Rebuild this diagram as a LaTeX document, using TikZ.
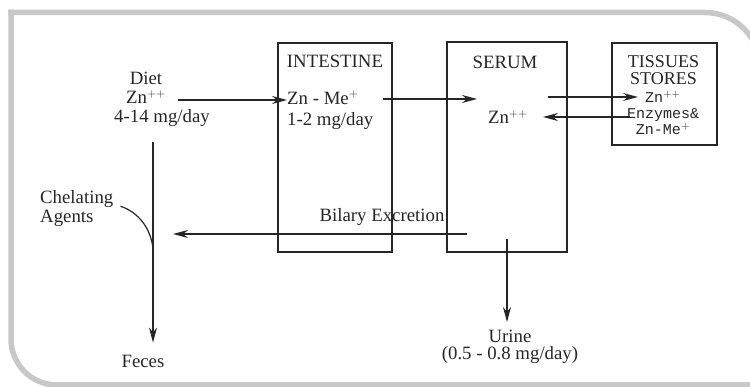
\documentclass[tikz,border=0pt]{standalone}
\usepackage{fontspec}
\setmainfont{Liberation Serif}
\setmonofont{Liberation Mono}
\usetikzlibrary{
  arrows.meta,
  positioning,
  calc,
}
\definecolor{framecol}{RGB}{200,200,200}
\definecolor{inkcol}{RGB}{38,38,38}
\tikzset{
  organbox/.style={
    rectangle, draw=inkcol, line width=1.3pt, inner sep=0pt
  },
  seriftext/.style={
    font=\fontsize{18.8}{19}\selectfont, text=inkcol,
    inner sep=0pt, align=center
  },
  monotext/.style={
    font=\ttfamily\fontsize{15}{16}\selectfont, text=inkcol,
    inner sep=0pt, align=center
  },
  flow/.style={-{Stealth[length=15pt,width=8pt]}, line width=1.2pt, inkcol},
  plainline/.style={line width=1.2pt, inkcol},
}

\begin{document}
\begin{tikzpicture}[x=1pt,y=-1pt]
  \useasboundingbox (0,0) rectangle (750,387);

  % ── Frame ──
  \begin{scope}
    \clip (0,0) rectangle (750,387);
    \draw[framecol, line width=5.5pt, rounded corners=46pt] (11,9.75) -- (11,385) -- (790,385);
    \draw[framecol, line width=5.5pt, rounded corners=55pt] (8.25,12.5) -- (760,12.5) -- (760,420);
  \end{scope}

  % ── Compartments ──
  \node[organbox, minimum width=114pt, minimum height=209pt] (intestine) at (335,147.5) {};
  \node[organbox, minimum width=120pt, minimum height=210pt] (serum)     at (507,147)   {};
  \node[organbox, minimum width=105pt, minimum height=102pt] (tissues)   at (664.5,94)  {};

  % ── Compartment titles ──
  \node[seriftext, below=13pt of intestine.north] (intitle) {INTESTINE};
  \node[seriftext, below=14.5pt of serum.north, xshift=-2pt] (sertitle) {SERUM};
  \node[seriftext, below=13pt of tissues.north, xshift=-1pt,
        font=\fontsize{18}{17}\selectfont] (tistitle) {TISSUES\\STORES};

  % ── Contents ──
  \node[seriftext] (diet) at (162,99.5) {Diet\kern32pt\\Zn$^{++}$\kern32pt\\4-14 mg/day};
  \node[seriftext, align=left, anchor=west, font=\fontsize{18.8}{21}\selectfont]
    (zninner) at (287,110) {Zn - Me$^{+}$\\1-2 mg/day};
  \node[seriftext] (serumzn) at (508,117) {Zn$^{++}$};
  \node[monotext, anchor=north] (tistext) at (663,91) {Zn$^{++}$\\Enzymes\&\\Zn-Me$^{+}$};
  \node[seriftext, align=left, anchor=north west] (chel) at (40,190) {Chelating\\Agents};
  \node[seriftext] (feces) at (143,361) {Feces};
  \node[seriftext] (bilary) at (382,217) {Bilary Excretion};
  \node[seriftext, font=\fontsize{18.8}{17}\selectfont] (urine) at (510,347) {Urine\\(0.5 - 0.8 mg/day)};

  % ── Arrow ends ──
  \coordinate (dietout)    at (178,100);
  \coordinate (intout)     at (383,99);
  \coordinate (serumin)    at (477,99);
  \coordinate (serumout)   at (548,97);
  \coordinate (tisin)      at (638,97);
  \coordinate (tisout)     at (630,117);
  \coordinate (serumback)  at (543,117);
  \coordinate (dietdrop)   at (153,142);
  \coordinate (chelmeet)   at (153,249);
  \coordinate (bilstart)   at (467,234);
  \coordinate (bilend)     at (173,234);
  \coordinate (urinestart) at (507,239);

  % ── Flows ──
  \draw[flow] (dietout) -- (dietout -| zninner.west);
  \draw[flow] (intout) -- (serumin);
  \draw[flow] (serumout) -- (tisin);
  \draw[flow] (tisout) -- (serumback);
  \draw[flow, shorten >=12pt] (dietdrop) -- (dietdrop |- feces.north);
  \draw[flow] (bilstart) -- (bilend);
  \draw[flow, shorten >=8pt] (urinestart) -- (urinestart |- urine.north);

  % ── Chelating agents joining the faecal path ──
  \draw[plainline] ([xshift=7pt,yshift=2pt]chel.east) .. controls (138,212) and (151,228) .. (chelmeet);

\end{tikzpicture}
\end{document}
